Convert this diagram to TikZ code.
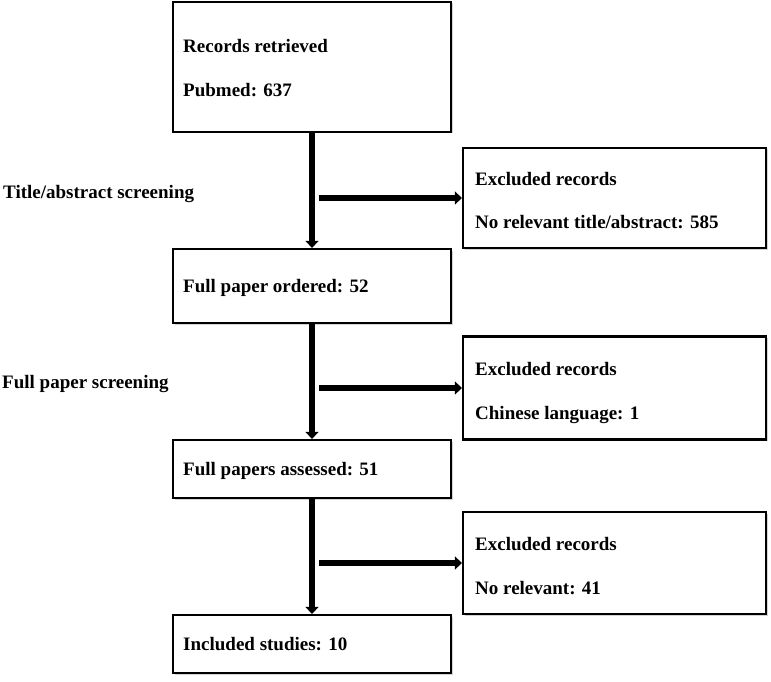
\documentclass[tikz,border=0pt]{standalone}
\usepackage{fontspec}
\setmainfont{Liberation Serif}
\usetikzlibrary{arrows.meta,shadows}
\begin{document}
\begin{tikzpicture}[x=1pt,y=-1pt,
  box/.style={draw=black, line width=2.2pt, fill=white, rectangle, inner sep=0pt,
    drop shadow={shadow xshift=1.5pt, shadow yshift=-1.5pt, opacity=0.35}},
  lbl/.style={font=\fontsize{19}{23}\selectfont\bfseries, anchor=base west, inner sep=0pt},
  flow/.style={line width=6.5pt, -{Triangle[length=7pt,width=13pt]}},
  ]
\useasboundingbox (0,0) rectangle (771,682);
% left column boxes
\node[box, minimum width=278pt, minimum height=130pt] (b1) at (312,67) {};
\node[box, minimum width=278pt, minimum height=74pt] (b2) at (312,286) {};
\node[box, minimum width=278pt, minimum height=58pt] (b3) at (312,469) {};
\node[box, minimum width=278pt, minimum height=58pt] (b4) at (312,644) {};
% right column boxes
\node[box, minimum width=303pt, minimum height=100pt] (r1) at (614.5,198) {};
\node[box, minimum width=303pt, minimum height=103pt] (r2) at (614.5,388) {};
\node[box, minimum width=303pt, minimum height=102pt] (r3) at (614.5,563) {};
% texts
\node[lbl] (t1a) at (183,53) {Records retrieved};
\node[lbl] (t1b) at (183,97) {Pubmed: 637};
\node[lbl] (t2) at (183,292) {Full paper ordered: 52};
\node[lbl] (t3) at (183,475) {Full papers assessed: 51};
\node[lbl] (t4) at (183,650) {Included studies: 10};
\node[lbl] (r1a) at (475,185) {Excluded records};
\node[lbl] (r1b) at (475,228) {No relevant title/abstract: 585};
\node[lbl] (r2a) at (475,375) {Excluded records};
\node[lbl] (r2b) at (475,419) {Chinese language: 1};
\node[lbl] (r3a) at (475,550) {Excluded records};
\node[lbl] (r3b) at (475,594) {No relevant: 41};
\node[lbl] (s1) at (3,198) {Title/abstract screening};
\node[lbl] (s2) at (2,388) {Full paper screening};
% connectors
\draw[flow] (b1.south) -- (b2.north);
\draw[flow] (b2.south) -- (b3.north);
\draw[flow] (b3.south) -- (b4.north);
\coordinate (h1) at (319,198);
\coordinate (h2) at (319,388);
\coordinate (h3) at (319,563);
\draw[flow] (h1) -- (r1.west);
\draw[flow] (h2) -- (r2.west);
\draw[flow] (h3) -- (r3.west);
\end{tikzpicture}
\end{document}
